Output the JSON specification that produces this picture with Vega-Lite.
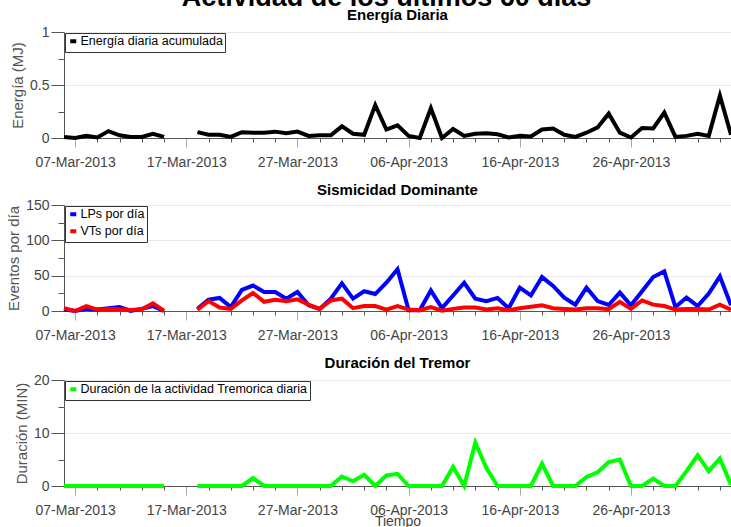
{
  "$schema": "https://vega.github.io/schema/vega-lite/v6.json",
  "padding": {"left": 6, "top": -16, "right": 0, "bottom": 0},
  "autosize": {"type": "pad"},
  "title": {"text": "Actividad de los últimos 60 días", "fontSize": 27, "fontWeight": "bold", "font": "Liberation Sans", "color": "#000", "anchor": "middle", "offset": -4, "dx": -11},
  "spacing": 14,
  "config": {
    "view": {"stroke": null},
    "font": "Liberation Sans",
    "axis": {"labelFont": "Liberation Sans", "labelFontSize": 14, "labelColor": "#444", "titleFont": "Liberation Sans", "titleFontSize": 15, "titleFontWeight": "normal", "titleColor": "#555", "domainColor": "#555", "tickColor": "#555", "gridColor": "#e8e8e8", "labelOverlap": false, "labelBound": false, "labelFlush": false},
    "title": {"font": "Liberation Sans", "fontSize": 15, "fontWeight": "bold", "color": "#000", "anchor": "middle", "frame": "group", "offset": 2},
    "legend": {"orient": "top-left", "offset": 1, "title": null, "fillColor": "white", "strokeColor": "#333", "padding": 2, "symbolType": "stroke", "symbolStrokeWidth": 4, "symbolSize": 36, "labelFontSize": 12.5, "labelColor": "#000", "labelFont": "Liberation Sans", "rowPadding": 0, "labelOffset": 1, "symbolOffset": 0, "labelLimit": 400}
  },
  "datasets": {
    "diario": [
      {"fecha": "2013-03-06T00:00:00", "energia": 0.01, "lps": 2, "vts": 4, "tremor": 0},
      {"fecha": "2013-03-07T00:00:00", "energia": 0.0, "lps": 0, "vts": 0, "tremor": 0},
      {"fecha": "2013-03-08T00:00:00", "energia": 0.02, "lps": 3, "vts": 7, "tremor": 0},
      {"fecha": "2013-03-09T00:00:00", "energia": 0.005, "lps": 2, "vts": 2, "tremor": 0},
      {"fecha": "2013-03-10T00:00:00", "energia": 0.065, "lps": 4, "vts": 3, "tremor": 0},
      {"fecha": "2013-03-11T00:00:00", "energia": 0.025, "lps": 5.5, "vts": 2.5, "tremor": 0},
      {"fecha": "2013-03-12T00:00:00", "energia": 0.01, "lps": 0, "vts": 1.5, "tremor": 0},
      {"fecha": "2013-03-13T00:00:00", "energia": 0.01, "lps": 3, "vts": 2.5, "tremor": 0},
      {"fecha": "2013-03-14T00:00:00", "energia": 0.04, "lps": 7, "vts": 11, "tremor": 0},
      {"fecha": "2013-03-15T00:00:00", "energia": 0.01, "lps": 0, "vts": 0, "tremor": 0},
      {"fecha": "2013-03-16T00:00:00", "energia": null, "lps": null, "vts": null, "tremor": null},
      {"fecha": "2013-03-17T00:00:00", "energia": null, "lps": null, "vts": null, "tremor": null},
      {"fecha": "2013-03-18T00:00:00", "energia": 0.055, "lps": 3, "vts": 2, "tremor": 0},
      {"fecha": "2013-03-19T00:00:00", "energia": 0.03, "lps": 16, "vts": 14, "tremor": 0},
      {"fecha": "2013-03-20T00:00:00", "energia": 0.03, "lps": 18.5, "vts": 5, "tremor": 0},
      {"fecha": "2013-03-21T00:00:00", "energia": 0.01, "lps": 5.7, "vts": 3, "tremor": 0},
      {"fecha": "2013-03-22T00:00:00", "energia": 0.055, "lps": 30, "vts": 15, "tremor": 0},
      {"fecha": "2013-03-23T00:00:00", "energia": 0.05, "lps": 36, "vts": 25.5, "tremor": 1.5},
      {"fecha": "2013-03-24T00:00:00", "energia": 0.05, "lps": 27, "vts": 13, "tremor": 0},
      {"fecha": "2013-03-25T00:00:00", "energia": 0.06, "lps": 27, "vts": 16, "tremor": 0},
      {"fecha": "2013-03-26T00:00:00", "energia": 0.045, "lps": 17.5, "vts": 14, "tremor": 0},
      {"fecha": "2013-03-27T00:00:00", "energia": 0.06, "lps": 27, "vts": 16.5, "tremor": 0},
      {"fecha": "2013-03-28T00:00:00", "energia": 0.02, "lps": 8, "vts": 9, "tremor": 0},
      {"fecha": "2013-03-29T00:00:00", "energia": 0.025, "lps": 3, "vts": 3, "tremor": 0},
      {"fecha": "2013-03-30T00:00:00", "energia": 0.025, "lps": 17.5, "vts": 15, "tremor": 0},
      {"fecha": "2013-03-31T00:00:00", "energia": 0.11, "lps": 39, "vts": 17.5, "tremor": 1.8},
      {"fecha": "2013-04-01T00:00:00", "energia": 0.04, "lps": 17.5, "vts": 4, "tremor": 0.9},
      {"fecha": "2013-04-02T00:00:00", "energia": 0.03, "lps": 28, "vts": 7, "tremor": 2.1},
      {"fecha": "2013-04-03T00:00:00", "energia": 0.31, "lps": 24, "vts": 7, "tremor": 0},
      {"fecha": "2013-04-04T00:00:00", "energia": 0.08, "lps": 40, "vts": 2, "tremor": 2},
      {"fecha": "2013-04-05T00:00:00", "energia": 0.12, "lps": 59, "vts": 7, "tremor": 2.3},
      {"fecha": "2013-04-06T00:00:00", "energia": 0.02, "lps": 1, "vts": 2, "tremor": 0},
      {"fecha": "2013-04-07T00:00:00", "energia": 0.0, "lps": 1, "vts": 1, "tremor": 0},
      {"fecha": "2013-04-08T00:00:00", "energia": 0.28, "lps": 29, "vts": 5.5, "tremor": 0},
      {"fecha": "2013-04-09T00:00:00", "energia": 0.0, "lps": 4, "vts": 0.5, "tremor": 0},
      {"fecha": "2013-04-10T00:00:00", "energia": 0.085, "lps": 22, "vts": 3, "tremor": 3.6},
      {"fecha": "2013-04-11T00:00:00", "energia": 0.02, "lps": 40, "vts": 5, "tremor": 0},
      {"fecha": "2013-04-12T00:00:00", "energia": 0.04, "lps": 17.5, "vts": 5, "tremor": 8.2},
      {"fecha": "2013-04-13T00:00:00", "energia": 0.045, "lps": 14, "vts": 2, "tremor": 3.4},
      {"fecha": "2013-04-14T00:00:00", "energia": 0.035, "lps": 18.5, "vts": 4, "tremor": 0},
      {"fecha": "2013-04-15T00:00:00", "energia": 0.005, "lps": 4, "vts": 1, "tremor": 0},
      {"fecha": "2013-04-16T00:00:00", "energia": 0.02, "lps": 33, "vts": 4, "tremor": 0},
      {"fecha": "2013-04-17T00:00:00", "energia": 0.015, "lps": 22, "vts": 6, "tremor": 0},
      {"fecha": "2013-04-18T00:00:00", "energia": 0.08, "lps": 48, "vts": 8, "tremor": 4.2},
      {"fecha": "2013-04-19T00:00:00", "energia": 0.09, "lps": 35.5, "vts": 4, "tremor": 0},
      {"fecha": "2013-04-20T00:00:00", "energia": 0.03, "lps": 19, "vts": 3, "tremor": 0},
      {"fecha": "2013-04-21T00:00:00", "energia": 0.01, "lps": 9, "vts": 2, "tremor": 0},
      {"fecha": "2013-04-22T00:00:00", "energia": 0.05, "lps": 33, "vts": 4, "tremor": 1.7},
      {"fecha": "2013-04-23T00:00:00", "energia": 0.1, "lps": 14, "vts": 4, "tremor": 2.6},
      {"fecha": "2013-04-24T00:00:00", "energia": 0.23, "lps": 8.5, "vts": 2.5, "tremor": 4.5},
      {"fecha": "2013-04-25T00:00:00", "energia": 0.05, "lps": 26, "vts": 13, "tremor": 5},
      {"fecha": "2013-04-26T00:00:00", "energia": 0.005, "lps": 8, "vts": 3, "tremor": 0},
      {"fecha": "2013-04-27T00:00:00", "energia": 0.095, "lps": 28, "vts": 15, "tremor": 0},
      {"fecha": "2013-04-28T00:00:00", "energia": 0.09, "lps": 48, "vts": 9, "tremor": 1.4},
      {"fecha": "2013-04-29T00:00:00", "energia": 0.24, "lps": 56, "vts": 7, "tremor": 0},
      {"fecha": "2013-04-30T00:00:00", "energia": 0.01, "lps": 5.7, "vts": 2, "tremor": 0},
      {"fecha": "2013-05-01T00:00:00", "energia": 0.02, "lps": 19, "vts": 3, "tremor": 2.8},
      {"fecha": "2013-05-02T00:00:00", "energia": 0.04, "lps": 7, "vts": 3, "tremor": 5.8},
      {"fecha": "2013-05-03T00:00:00", "energia": 0.02, "lps": 24.6, "vts": 2, "tremor": 2.8},
      {"fecha": "2013-05-04T00:00:00", "energia": 0.4, "lps": 49, "vts": 9, "tremor": 5.2},
      {"fecha": "2013-05-05T00:00:00", "energia": 0.03, "lps": 8, "vts": 2, "tremor": 0.2}
    ]
  },
  "vconcat": [
    {
      "width": 667, "height": 106,
      "title": {"text": "Energía Diaria"},
      "data": {"name": "diario"},
      "transform": [{"fold": ["energia"], "as": ["serie", "valor"]}],
      "mark": {"type": "line", "strokeWidth": 4, "invalid": "break-paths-filter-domains"},
      "encoding": {
        "x": {"field": "fecha", "type": "temporal",
          "scale": {"domain": [{"year": 2013, "month": 3, "date": 6}, {"year": 2013, "month": 5, "date": 5}]},
          "axis": {"title": null, "grid": false, "labelPadding": 8,
            "values": [{"year":2013,"month":3,"date":7},{"year":2013,"month":3,"date":9},{"year":2013,"month":3,"date":11},{"year":2013,"month":3,"date":13},{"year":2013,"month":3,"date":15},{"year":2013,"month":3,"date":17},{"year":2013,"month":3,"date":19},{"year":2013,"month":3,"date":21},{"year":2013,"month":3,"date":23},{"year":2013,"month":3,"date":25},{"year":2013,"month":3,"date":27},{"year":2013,"month":3,"date":29},{"year":2013,"month":3,"date":31},{"year":2013,"month":4,"date":2},{"year":2013,"month":4,"date":4},{"year":2013,"month":4,"date":6},{"year":2013,"month":4,"date":8},{"year":2013,"month":4,"date":10},{"year":2013,"month":4,"date":12},{"year":2013,"month":4,"date":14},{"year":2013,"month":4,"date":16},{"year":2013,"month":4,"date":18},{"year":2013,"month":4,"date":20},{"year":2013,"month":4,"date":22},{"year":2013,"month":4,"date":24},{"year":2013,"month":4,"date":26},{"year":2013,"month":4,"date":28},{"year":2013,"month":4,"date":30},{"year":2013,"month":5,"date":2},{"year":2013,"month":5,"date":4}],
            "labelExpr": "round((datum.value - datetime(2013,2,7))/864e5) % 10 == 0 ? timeFormat(datum.value, '%d-%b-%Y') : ''",
            "tickSize": {"condition": {"test": "round((datum.value - datetime(2013,2,7))/864e5) % 10 == 0", "value": 9}, "value": 4},
            "tickColor": {"condition": {"test": "round((datum.value - datetime(2013,2,7))/864e5) % 10 == 0", "value": "#aaa"}, "value": "#555"}
          }},
        "y": {"field": "valor", "type": "quantitative",
          "scale": {"domain": [0, 1], "nice": false},
          "axis": {"title": "Energía (MJ)", "values": [0, 0.25, 0.5, 0.75, 1], "format": "~g", "titlePadding": 4, "labelPadding": 2,
            "labelExpr": "datum.value % 0.5 == 0 ? datum.label : ''",
            "tickSize": {"condition": {"test": "datum.value % 0.5 == 0", "value": 13}, "value": 6},
            "gridOpacity": {"condition": {"test": "datum.value % 0.5 == 0", "value": 1}, "value": 0}}},
        "color": {"field": "serie", "type": "nominal",
          "scale": {"domain": ["energia"], "range": ["#000000"]},
          "legend": {"labelExpr": "'Energía diaria acumulada'"}}
      }
    },
    {
      "width": 667, "height": 106,
      "title": {"text": "Sismicidad Dominante", "offset": 0},
      "data": {"name": "diario"},
      "transform": [{"fold": ["lps", "vts"], "as": ["serie", "valor"]}],
      "mark": {"type": "line", "strokeWidth": 4, "invalid": "break-paths-filter-domains"},
      "encoding": {
        "x": {"field": "fecha", "type": "temporal",
          "scale": {"domain": [{"year": 2013, "month": 3, "date": 6}, {"year": 2013, "month": 5, "date": 5}]},
          "axis": {"title": null, "grid": false, "labelPadding": 8,
            "values": [{"year":2013,"month":3,"date":7},{"year":2013,"month":3,"date":9},{"year":2013,"month":3,"date":11},{"year":2013,"month":3,"date":13},{"year":2013,"month":3,"date":15},{"year":2013,"month":3,"date":17},{"year":2013,"month":3,"date":19},{"year":2013,"month":3,"date":21},{"year":2013,"month":3,"date":23},{"year":2013,"month":3,"date":25},{"year":2013,"month":3,"date":27},{"year":2013,"month":3,"date":29},{"year":2013,"month":3,"date":31},{"year":2013,"month":4,"date":2},{"year":2013,"month":4,"date":4},{"year":2013,"month":4,"date":6},{"year":2013,"month":4,"date":8},{"year":2013,"month":4,"date":10},{"year":2013,"month":4,"date":12},{"year":2013,"month":4,"date":14},{"year":2013,"month":4,"date":16},{"year":2013,"month":4,"date":18},{"year":2013,"month":4,"date":20},{"year":2013,"month":4,"date":22},{"year":2013,"month":4,"date":24},{"year":2013,"month":4,"date":26},{"year":2013,"month":4,"date":28},{"year":2013,"month":4,"date":30},{"year":2013,"month":5,"date":2},{"year":2013,"month":5,"date":4}],
            "labelExpr": "round((datum.value - datetime(2013,2,7))/864e5) % 10 == 0 ? timeFormat(datum.value, '%d-%b-%Y') : ''",
            "tickSize": {"condition": {"test": "round((datum.value - datetime(2013,2,7))/864e5) % 10 == 0", "value": 9}, "value": 4},
            "tickColor": {"condition": {"test": "round((datum.value - datetime(2013,2,7))/864e5) % 10 == 0", "value": "#aaa"}, "value": "#555"}
          }},
        "y": {"field": "valor", "type": "quantitative",
          "scale": {"domain": [0, 150], "nice": false},
          "axis": {"title": "Eventos por día", "values": [0, 25, 50, 75, 100, 125, 150], "titlePadding": 4, "labelPadding": 2,
            "labelExpr": "datum.value % 50 == 0 ? datum.label : ''",
            "tickSize": {"condition": {"test": "datum.value % 50 == 0", "value": 13}, "value": 6},
            "gridOpacity": {"condition": {"test": "datum.value % 50 == 0", "value": 1}, "value": 0}}},
        "color": {"field": "serie", "type": "nominal",
          "scale": {"domain": ["lps", "vts"], "range": ["#0000ff", "#ff0000"]},
          "legend": {"labelExpr": "datum.label == 'lps' ? 'LPs por día' : 'VTs por día'"}}
      }
    },
    {
      "width": 667, "height": 106,
      "title": {"text": "Duración del Tremor"},
      "data": {"name": "diario"},
      "transform": [{"fold": ["tremor"], "as": ["serie", "valor"]}],
      "mark": {"type": "line", "strokeWidth": 4, "invalid": "break-paths-filter-domains"},
      "encoding": {
        "x": {"field": "fecha", "type": "temporal",
          "scale": {"domain": [{"year": 2013, "month": 3, "date": 6}, {"year": 2013, "month": 5, "date": 5}]},
          "axis": {"title": "Tiempo", "titlePadding": -3, "titleFontSize": 14, "titleColor": "#444", "grid": false, "labelPadding": 8,
            "values": [{"year":2013,"month":3,"date":7},{"year":2013,"month":3,"date":9},{"year":2013,"month":3,"date":11},{"year":2013,"month":3,"date":13},{"year":2013,"month":3,"date":15},{"year":2013,"month":3,"date":17},{"year":2013,"month":3,"date":19},{"year":2013,"month":3,"date":21},{"year":2013,"month":3,"date":23},{"year":2013,"month":3,"date":25},{"year":2013,"month":3,"date":27},{"year":2013,"month":3,"date":29},{"year":2013,"month":3,"date":31},{"year":2013,"month":4,"date":2},{"year":2013,"month":4,"date":4},{"year":2013,"month":4,"date":6},{"year":2013,"month":4,"date":8},{"year":2013,"month":4,"date":10},{"year":2013,"month":4,"date":12},{"year":2013,"month":4,"date":14},{"year":2013,"month":4,"date":16},{"year":2013,"month":4,"date":18},{"year":2013,"month":4,"date":20},{"year":2013,"month":4,"date":22},{"year":2013,"month":4,"date":24},{"year":2013,"month":4,"date":26},{"year":2013,"month":4,"date":28},{"year":2013,"month":4,"date":30},{"year":2013,"month":5,"date":2},{"year":2013,"month":5,"date":4}],
            "labelExpr": "round((datum.value - datetime(2013,2,7))/864e5) % 10 == 0 ? timeFormat(datum.value, '%d-%b-%Y') : ''",
            "tickSize": {"condition": {"test": "round((datum.value - datetime(2013,2,7))/864e5) % 10 == 0", "value": 9}, "value": 4},
            "tickColor": {"condition": {"test": "round((datum.value - datetime(2013,2,7))/864e5) % 10 == 0", "value": "#aaa"}, "value": "#555"}
          }},
        "y": {"field": "valor", "type": "quantitative",
          "scale": {"domain": [0, 20], "nice": false},
          "axis": {"title": "Duración (MIN)", "values": [0, 5, 10, 15, 20], "titlePadding": 4, "labelPadding": 2,
            "labelExpr": "datum.value % 10 == 0 ? datum.label : ''",
            "tickSize": {"condition": {"test": "datum.value % 10 == 0", "value": 13}, "value": 6},
            "gridOpacity": {"condition": {"test": "datum.value % 10 == 0", "value": 1}, "value": 0}}},
        "color": {"field": "serie", "type": "nominal",
          "scale": {"domain": ["tremor"], "range": ["#00ff00"]},
          "legend": {"labelExpr": "'Duración de la actividad Tremorica diaria'"}}
      }
    }
  ],
  "resolve": {"scale": {"color": "independent"}}
}
